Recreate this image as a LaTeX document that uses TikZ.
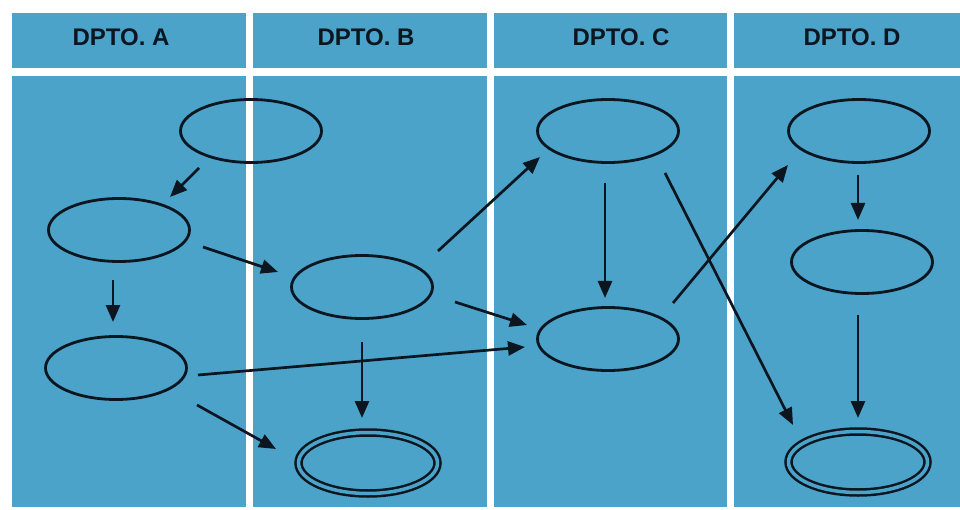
\documentclass[tikz,border=0pt]{standalone}
\usepackage{fontspec}
\setmainfont{Liberation Sans}
\usetikzlibrary{shapes.geometric,arrows.meta,calc}
\definecolor{panel}{RGB}{76,163,201}
\definecolor{ink}{RGB}{12,22,32}
\begin{document}
\begin{tikzpicture}[x=1pt,y=-1pt,
  oval/.style={ellipse,draw=ink,line width=2.8pt,minimum width=141pt,minimum height=63pt,inner sep=0pt},
  ovalend/.style={ellipse,draw=ink,line width=2.5pt,double=panel,double distance=3.5pt,minimum width=139pt,minimum height=61pt,inner sep=0pt},
  arr/.style={draw=ink,line width=2.7pt,-{Triangle[length=17pt,width=14pt]}},
  headtxt/.style={font=\bfseries\fontsize{24}{24}\selectfont,text=ink,inner sep=0pt,anchor=center}]
\useasboundingbox (0,0) rectangle (960,510);
% background
\fill[white] (0,0) rectangle (960,510);
\fill[panel] (12,13) rectangle (960,507);
\fill[white] (246,13) rectangle (253,507);
\fill[white] (487,13) rectangle (494,507);
\fill[white] (727,13) rectangle (734,507);
\fill[white] (12,68) rectangle (960,76);
% headers
\node[headtxt] (hA) at (121,37) {DPTO. A};
\node[headtxt] (hB) at (366,37) {DPTO. B};
\node[headtxt] (hC) at (621,37) {DPTO. C};
\node[headtxt] (hD) at (852,37) {DPTO. D};
% nodes
\node[oval] (a1) at (251,131) {};
\node[oval] (a2) at (119,230) {};
\node[oval] (a3) at (116,368) {};
\node[oval] (b1) at (362,287) {};
\node[ovalend] (b2) at (368,463) {};
\node[oval] (c1) at (608,131) {};
\node[oval] (c2) at (608,339) {};
\node[oval] (d1) at (859,131) {};
\node[oval] (d2) at (862,262) {};
\node[ovalend] (d3) at (858,462) {};
% connectors
\draw[arr] ($(a1)+(-52,37)$) -- ($(a2)+(51,-33)$);
\draw[arr] ($(a2)+(84,17)$) -- ($(b1)+(-84,-15)$);
\draw[arr] ($(a2)+(-6,50)$) -- ($(a3)+(-3,-46)$);
\draw[arr] ($(a3)+(82,7)$) -- ($(c2)+(-83,8)$);
\draw[arr] ($(a3)+(81,37)$) -- ($(b2)+(-92,-14)$);
\draw[arr] ($(b1)+(76,-36)$) -- ($(c1)+(-68,26)$);
\draw[arr] ($(b1)+(93,15)$) -- ($(c2)+(-81,-14)$);
\draw[arr] ($(b1)+(0,55)$) -- ($(b2)+(-6,-45)$);
\draw[arr] ($(c1)+(-3,52)$) -- ($(c2)+(-3,-41)$);
\draw[arr] ($(c1)+(57,42)$) -- ($(d3)+(-65,-37)$);
\draw[arr] ($(c2)+(65,-36)$) -- ($(d1)+(-71,34)$);
\draw[arr] ($(d1)+(-1,44)$) -- ($(d2)+(-4,-42)$);
\draw[arr] ($(d2)+(-4,53)$) -- ($(d3)+(0,-44)$);
\end{tikzpicture}
\end{document}
